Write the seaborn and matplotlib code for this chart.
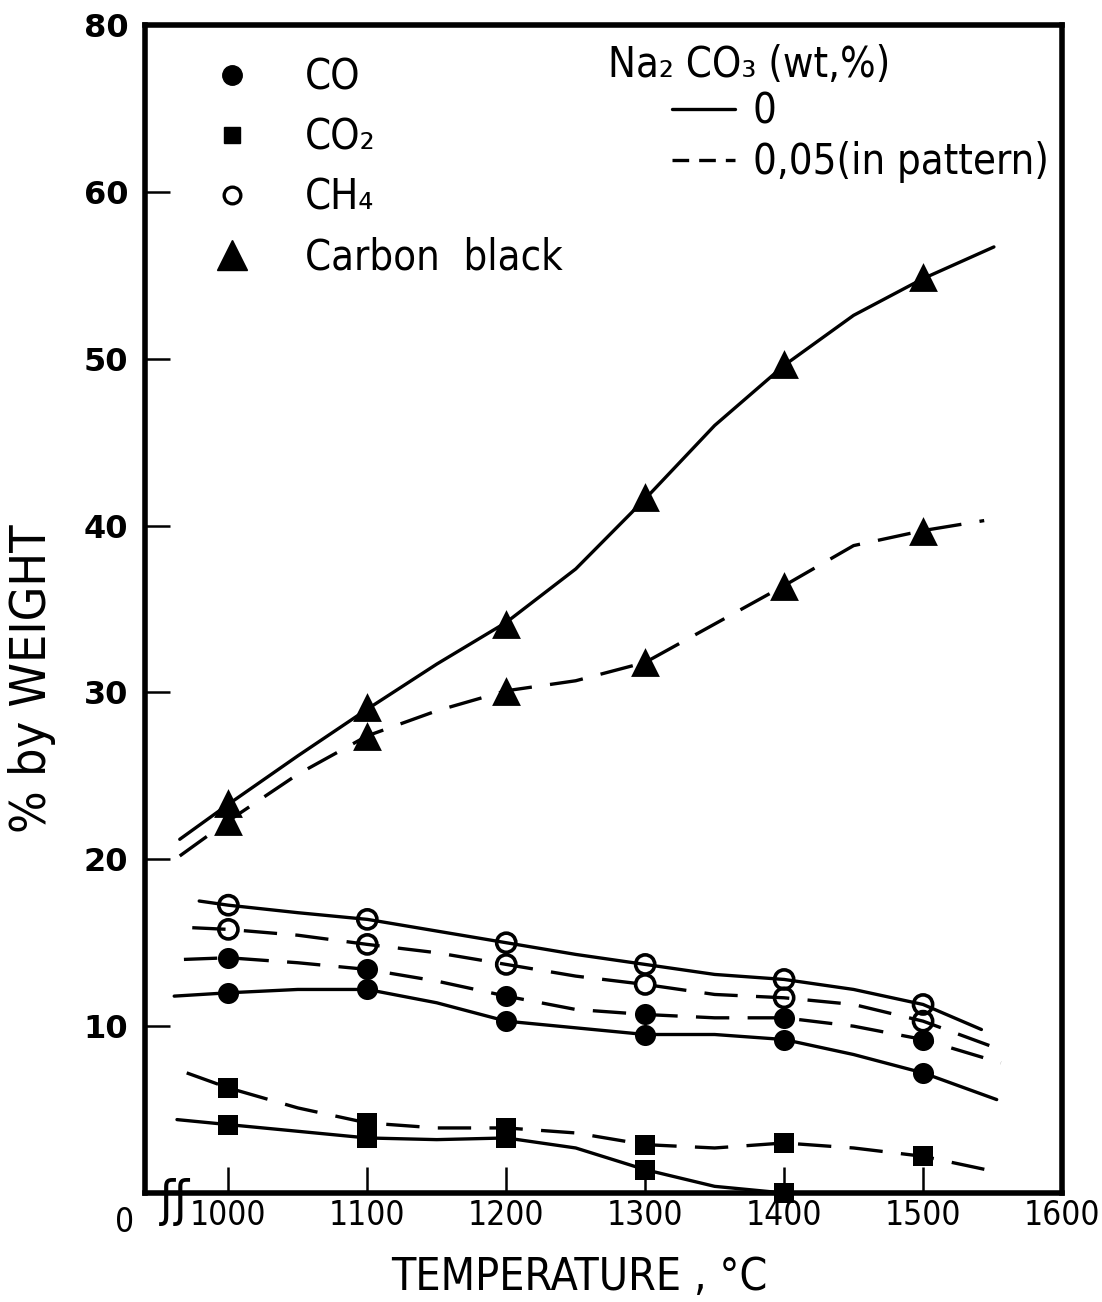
import numpy as np
import pandas as pd
import matplotlib
matplotlib.use('Agg')
import matplotlib.pyplot as plt
from matplotlib.lines import Line2D
import seaborn as sns

temps = [1000, 1100, 1200, 1300, 1400, 1500]
co_0 = [12.0, 12.2, 10.3, 9.5, 9.2, 7.2]
co_005 = [14.1, 13.4, 11.8, 10.7, 10.5, 9.2]
co2_0_temps = [1000, 1100, 1200, 1300, 1400]
co2_0 = [4.1, 3.3, 3.3, 1.4, 0.0]
co2_005 = [6.3, 4.2, 3.9, 2.9, 3.0, 2.2]
ch4_0 = [17.25, 16.4, 15.0, 13.7, 12.8, 11.3]
ch4_005 = [15.8, 14.9, 13.7, 12.5, 11.7, 10.3]
cb_0 = [23.4, 29.1, 34.1, 41.7, 49.7, 54.9]
cb_005 = [22.3, 27.4, 30.1, 31.8, 36.4, 39.7]

# drawn curves, every 50 deg C plus their ends
mid_t = [1000, 1050, 1100, 1150, 1200, 1250, 1300, 1350, 1400, 1450, 1500]
cb_0_curve_t = [965] + mid_t + [1551]
cb_0_curve = [21.2, 23.3, 26.2, 29.0, 31.7, 34.2, 37.4, 41.6, 46.0, 49.6, 52.6, 54.8, 56.7]
cb_005_curve_t = [965] + mid_t + [1544]
cb_005_curve = [20.2, 22.3, 25.1, 27.4, 28.9, 30.1, 30.7, 31.8, 34.1, 36.4, 38.8, 39.7, 40.3]
ch4_0_curve_t = [979] + mid_t + [1542]
ch4_0_curve = [17.5, 17.25, 16.8, 16.4, 15.7, 15.0, 14.3, 13.7, 13.1, 12.8, 12.2, 11.3, 9.8]
ch4_005_curve_t = [974] + mid_t + [1549]
ch4_005_curve = [15.9, 15.8, 15.45, 14.9, 14.4, 13.7, 13.0, 12.5, 11.9, 11.7, 11.3, 10.3, 8.8]
co_005_curve_t = [968] + mid_t + [1556]
co_005_curve = [14.0, 14.1, 13.8, 13.4, 12.7, 11.8, 11.0, 10.7, 10.5, 10.5, 10.0, 9.2, 7.8]
co_0_curve_t = [961] + mid_t + [1553]
co_0_curve = [11.8, 12.0, 12.2, 12.2, 11.4, 10.3, 9.9, 9.5, 9.5, 9.2, 8.3, 7.2, 5.6]
co2_005_curve_t = [970] + mid_t + [1551]
co2_005_curve = [7.2, 6.3, 5.1, 4.2, 3.9, 3.9, 3.6, 2.9, 2.7, 3.0, 2.7, 2.2, 1.3]
co2_0_curve_t = [963, 1000, 1050, 1100, 1150, 1200, 1250, 1300, 1350, 1400]
co2_0_curve = [4.4, 4.1, 3.7, 3.3, 3.2, 3.3, 2.7, 1.4, 0.4, 0.0]

x_ticks = [1000, 1100, 1200, 1300, 1400, 1500, 1600]
y_ticks = [10, 20, 30, 40, 50, 60, 70]
y_tick_labels = ['10', '20', '30', '40', '50', '60', '80']

sns.set_theme(style='ticks')
plt.rcParams['font.family'] = ['DejaVu Sans']
plt.rcParams['font.stretch'] = 'condensed'
plt.rcParams['text.color'] = 'black'
plt.rcParams['axes.labelcolor'] = 'black'

fig = plt.figure(figsize=(11.02, 13.02), dpi=100)
ax = fig.add_axes([0.1316, 0.0837, 0.8321, 0.8971])

solid = '-'
dashed = (0, (10, 5.5))
lw = 2.4

curves = [
    (cb_0_curve_t, cb_0_curve, solid), (cb_005_curve_t, cb_005_curve, dashed),
    (ch4_0_curve_t, ch4_0_curve, solid), (ch4_005_curve_t, ch4_005_curve, dashed),
    (co_0_curve_t, co_0_curve, solid), (co_005_curve_t, co_005_curve, dashed),
    (co2_0_curve_t, co2_0_curve, solid), (co2_005_curve_t, co2_005_curve, dashed),
]
for t, v, ls in curves:
    sns.lineplot(x=t, y=v, ax=ax, color='black', lw=lw, linestyle=ls,
                 estimator=None, sort=False)

# markers
filled = dict(color='black', edgecolor='black', zorder=4, clip_on=False)
sns.scatterplot(x=temps + temps, y=cb_0 + cb_005, marker='^', s=430, linewidth=0, ax=ax, **filled)
sns.scatterplot(x=temps + temps, y=co_0 + co_005, marker='o', s=230, linewidth=0, ax=ax, **filled)
sns.scatterplot(x=co2_0_temps + temps, y=co2_0 + co2_005, marker='s', s=190, linewidth=0, ax=ax, **filled)
sns.scatterplot(x=temps + temps, y=ch4_0 + ch4_005, marker='o', s=190, facecolor='none',
                edgecolor='black', linewidth=2.6, zorder=4, ax=ax)

ax.set_xlim(940, 1600)
ax.set_ylim(0, 70)
ax.set_xticks(x_ticks)
ax.set_xticklabels([str(t) for t in x_ticks], fontsize=24)
ax.set_yticks(y_ticks)
ax.set_yticklabels(y_tick_labels, fontsize=23, fontweight='bold', fontstretch='normal')
ax.tick_params(axis='x', direction='in', length=19, width=1.8, pad=4, colors='black')
ax.tick_params(axis='y', direction='in', length=18, width=1.8, pad=12, colors='black')
for side in ['left', 'right', 'top', 'bottom']:
    ax.spines[side].set_visible(True)
    ax.spines[side].set_linewidth(4)
    ax.spines[side].set_color('black')

ax.set_xlabel('TEMPERATURE , °C', fontsize=32)
ax.xaxis.set_label_coords(0.474, -0.054)
ax.set_ylabel('% by WEIGHT', fontsize=36)
ax.yaxis.set_label_coords(-0.097, 0.44)

# origin label and axis break
ax.text(-0.022, -0.025, '0', transform=ax.transAxes, ha='center', va='center', fontsize=24)
ax.text(0.033, -0.008, 'ʃʃ', transform=ax.transAxes, ha='center', va='center',
        fontsize=36)

# legend of species
sp_handles = [
    Line2D([], [], marker='o', ls='none', color='black', ms=14),
    Line2D([], [], marker='s', ls='none', color='black', ms=11),
    Line2D([], [], marker='o', ls='none', mfc='none', mec='black', mew=2.4, ms=12),
    Line2D([], [], marker='^', ls='none', color='black', ms=21),
]
sp_labels = ['CO', 'CO₂', 'CH₄', 'Carbon  black']
leg1 = ax.legend(sp_handles, sp_labels, loc='upper left', bbox_to_anchor=(0.072, 0.973),
                 frameon=False, fontsize=30, handlelength=1.0, handletextpad=1.25,
                 labelspacing=0.43, borderpad=0, borderaxespad=0)
ax.add_artist(leg1)

# legend of Na2CO3 content
na_handles = [Line2D([], [], color='black', lw=lw, ls=solid),
              Line2D([], [], color='black', lw=lw, ls=(0, (5, 3)))]
ax.legend(na_handles, ['0', '0,05(in pattern)'], loc='upper left',
          bbox_to_anchor=(0.5747, 0.9435), frameon=False, fontsize=30,
          handlelength=1.52, handletextpad=0.42, labelspacing=0.2,
          borderpad=0, borderaxespad=0)
ax.text(0.505, 0.966, 'Na₂ CO₃ (wt,%)', transform=ax.transAxes, ha='left', va='center', fontsize=30)

fig.savefig('out.png', dpi=100)
